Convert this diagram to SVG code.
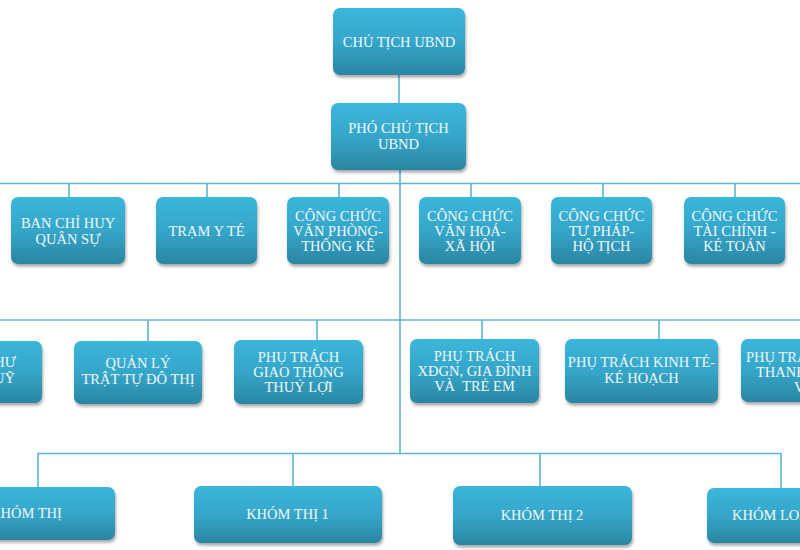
<svg xmlns="http://www.w3.org/2000/svg" width="800" height="550" viewBox="0 0 800 550">
  <defs>
    <linearGradient id="g" x1="0" y1="0" x2="0" y2="1">
      <stop offset="0" stop-color="#3cb6dc"/>
      <stop offset="0.5" stop-color="#35a6c9"/>
      <stop offset="1" stop-color="#2a86a2"/>
    </linearGradient>
    <filter id="sh" x="-10%" y="-10%" width="125%" height="140%">
      <feDropShadow dx="1" dy="2.5" stdDeviation="1.6" flood-color="#000" flood-opacity="0.35"/>
    </filter>
  </defs>
  <style>
    .box { fill: url(#g); filter: url(#sh); }
    .t { font-family: "Liberation Serif", "Times New Roman", serif; font-size: 14.5px; fill: #f0f8fb; text-anchor: middle; }
    .ts { text-anchor: start; }
    .te { text-anchor: end; }
    .c { stroke: #5cb6cf; stroke-width: 1.6; fill: none; }
  </style>
  <rect width="800" height="550" fill="#ffffff"/>

  <g id="connectors">
    <path class="c" d="M399 75 V103"/>
    <path class="c" d="M400 170 V454"/>
    <path class="c" d="M0 183.5 H800"/>
    <path class="c" d="M69 183.5 V197 M207 183.5 V197 M339 183.5 V197 M471 183.5 V197 M603 183.5 V197 M735 183.5 V197"/>
    <path class="c" d="M0 320 H800"/>
    <path class="c" d="M148 320 V341 M317 320 V340 M482 320 V339 M659 320 V339"/>
    <path class="c" d="M38 487 V453.5 H781 V488 M293 453.5 V486 M540 453.5 V486"/>
  </g>

  <g id="chu-tich">
    <rect class="box" x="333" y="8" width="132" height="67" rx="7"/>
    <text class="t" x="399" y="46.5">CHỦ TỊCH UBND</text>
  </g>
  <g id="pho-chu-tich">
    <rect class="box" x="331" y="103" width="135" height="67" rx="7"/>
    <text class="t" x="398.5" y="133">PHÓ CHỦ TỊCH</text>
    <text class="t" x="398.5" y="149">UBND</text>
  </g>

  <g id="ban-chi-huy">
    <rect class="box" x="11" y="197" width="114" height="67" rx="7"/>
    <text class="t" x="68" y="228">BAN CHỈ HUY</text>
    <text class="t" x="68" y="244">QUÂN SỰ</text>
  </g>
  <g id="tram-y-te">
    <rect class="box" x="156" y="197" width="101" height="67" rx="7"/>
    <text class="t" x="206.5" y="235.5">TRẠM Y TÉ</text>
  </g>
  <g id="van-phong">
    <rect class="box" x="287" y="197" width="102" height="67" rx="7"/>
    <text class="t" x="338" y="221">CÔNG CHỨC</text>
    <text class="t" x="338" y="236">VĂN PHÒNG-</text>
    <text class="t" x="338" y="251">THỐNG KÊ</text>
  </g>
  <g id="van-hoa">
    <rect class="box" x="419" y="197" width="102" height="67" rx="7"/>
    <text class="t" x="470" y="221">CÔNG CHỨC</text>
    <text class="t" x="470" y="236">VĂN HOÁ-</text>
    <text class="t" x="470" y="251">XÃ HỘI</text>
  </g>
  <g id="tu-phap">
    <rect class="box" x="551" y="197" width="101" height="67" rx="7"/>
    <text class="t" x="601.5" y="221">CÔNG CHỨC</text>
    <text class="t" x="601.5" y="236">TƯ PHÁP-</text>
    <text class="t" x="601.5" y="251">HỘ TỊCH</text>
  </g>
  <g id="tai-chinh">
    <rect class="box" x="684" y="197" width="101" height="67" rx="7"/>
    <text class="t" x="734.5" y="221">CÔNG CHỨC</text>
    <text class="t" x="734.5" y="236">TÀI CHÍNH -</text>
    <text class="t" x="734.5" y="251">KÉ TOÁN</text>
  </g>

  <g id="van-thu">
    <rect class="box" x="-87" y="341" width="129" height="62" rx="7"/>
    <text class="t te" x="16" y="367">VĂN THƯ</text>
    <text class="t te" x="15" y="383">THỦ QUỸ</text>
  </g>
  <g id="quan-ly">
    <rect class="box" x="74" y="341" width="128" height="63" rx="7"/>
    <text class="t" x="138" y="368">QUẢN LÝ</text>
    <text class="t" x="138" y="384">TRẬT TỰ ĐÔ THỊ</text>
  </g>
  <g id="giao-thong">
    <rect class="box" x="234" y="340" width="129" height="64" rx="7"/>
    <text class="t" x="298.5" y="362">PHỤ TRÁCH</text>
    <text class="t" x="298.5" y="377">GIAO THÔNG</text>
    <text class="t" x="298.5" y="392">THUỶ LỢI</text>
  </g>
  <g id="xdgn">
    <rect class="box" x="410" y="339" width="129" height="64" rx="7"/>
    <text class="t" x="474.5" y="361">PHỤ TRÁCH</text>
    <text class="t" x="474.5" y="376">XĐGN, GIA ĐÌNH</text>
    <text class="t" x="474.5" y="391" xml:space="preserve">VÀ  TRẺ EM</text>
  </g>
  <g id="kinh-te">
    <rect class="box" x="565" y="339" width="153" height="64" rx="7"/>
    <text class="t" x="641.5" y="367">PHỤ TRÁCH KINH TÉ-</text>
    <text class="t" x="641.5" y="383">KÉ HOẠCH</text>
  </g>
  <g id="thanh-nien">
    <rect class="box" x="741" y="339" width="129" height="63" rx="7"/>
    <text class="t ts" x="746" y="362">PHỤ TRÁCH</text>
    <text class="t ts" x="756" y="377">THANH,</text>
    <text class="t ts" x="794" y="392">VÀ</text>
  </g>

  <g id="khom-thi">
    <rect class="box" x="-65" y="487" width="180" height="53" rx="7"/>
    <text class="t" x="26" y="518">KHÓM THỊ</text>
  </g>
  <g id="khom-thi-1">
    <rect class="box" x="194" y="486" width="188" height="57" rx="7"/>
    <text class="t" x="287.5" y="519">KHÓM THỊ 1</text>
  </g>
  <g id="khom-thi-2">
    <rect class="box" x="453" y="486" width="179" height="59" rx="7"/>
    <text class="t" x="542" y="520">KHÓM THỊ 2</text>
  </g>
  <g id="khom-long">
    <rect class="box" x="707" y="488" width="183" height="55" rx="7"/>
    <text class="t ts" x="732" y="520">KHÓM LONG</text>
  </g>
</svg>
